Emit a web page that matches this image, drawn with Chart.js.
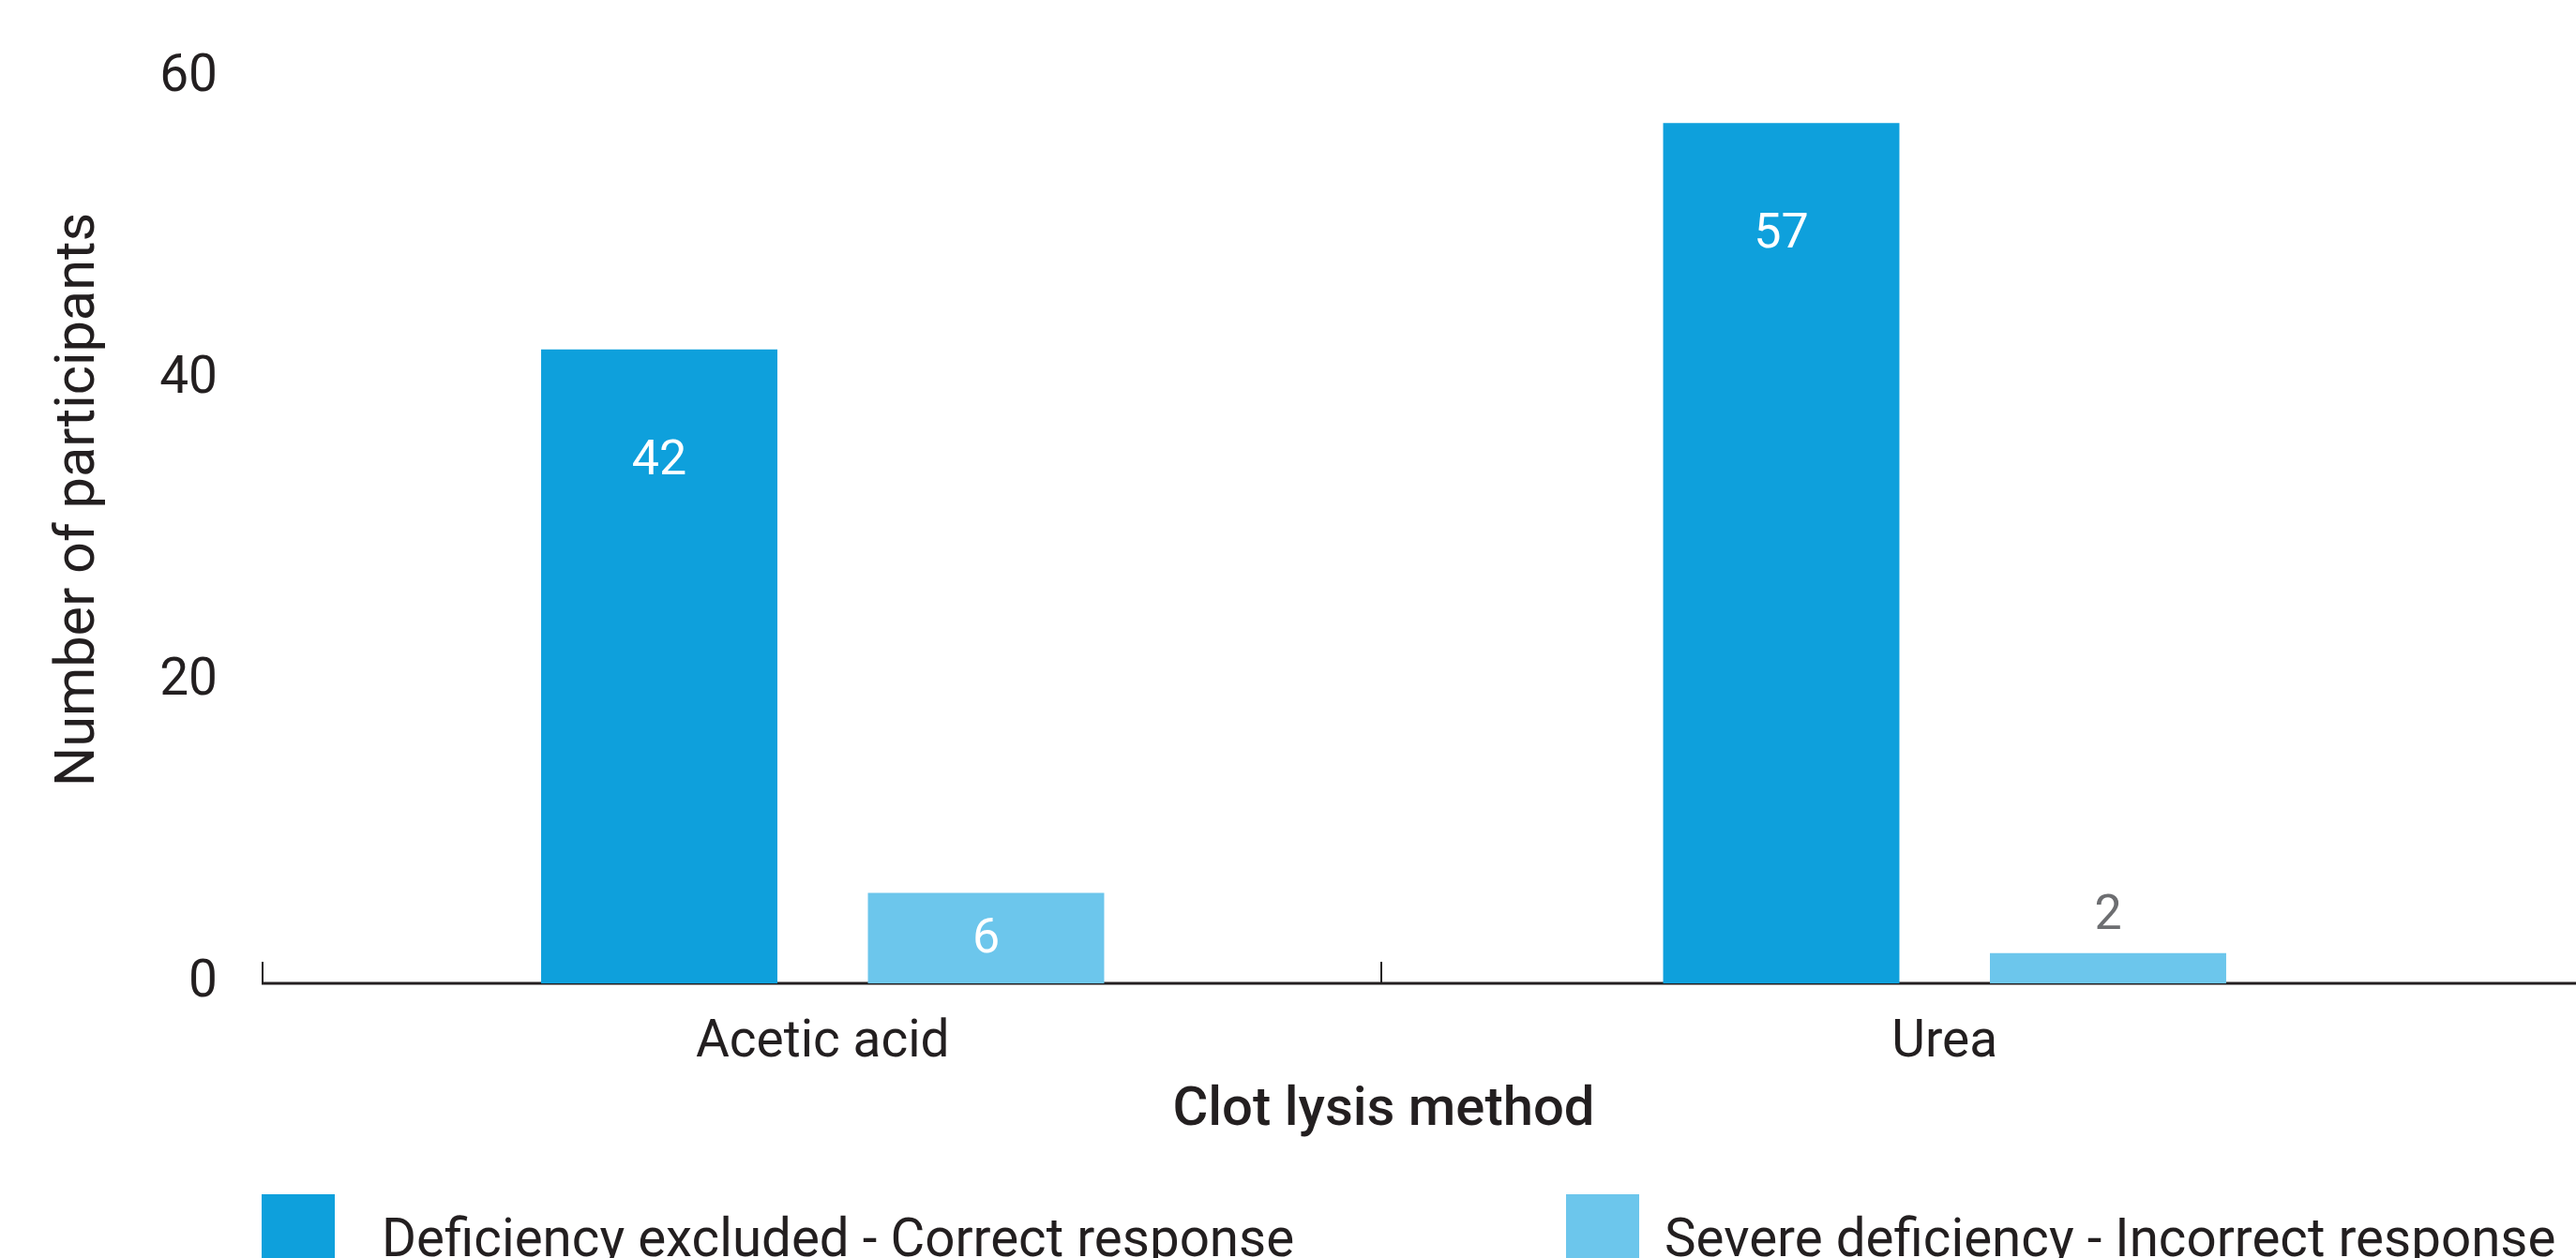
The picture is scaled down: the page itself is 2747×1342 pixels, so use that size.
<!DOCTYPE html>
<html>
<head>
<meta charset="utf-8">
<script src="https://cdn.jsdelivr.net/npm/chart.js@4/dist/chart.umd.min.js"></script>
<style>
  html, body { margin: 0; padding: 0; background: #ffffff; overflow: hidden; }
  #wrap { position: relative; width: 2747px; height: 1342px; }
  #chart { position: absolute; left: 0; top: 0; }
  .legend-item { position: absolute; top: 1274px; }
  .legend-box { position: absolute; top: 0; width: 78px; height: 78px; }
  .legend-text {
    position: absolute; top: 19px; white-space: nowrap;
    font-family: Roboto, sans-serif; font-size: 56.5px; line-height: 1;
    color: #231f20;
  }
</style>
</head>
<body>
<div id="wrap">
  <canvas id="chart" width="2747" height="1342"></canvas>
  <div id="legend"></div>
</div>
<script>
// Clot lysis method results
const categories = ['Acetic acid', 'Urea'];
const seriesNames = ['Deficiency excluded - Correct response', 'Severe deficiency - Incorrect response'];
const correctCounts = [42, 57];
const incorrectCounts = [6, 2];
const yTicks = [0, 20, 40, 60];
const yTitle = 'Number of participants';

const DARK = '#0ea0dc';
const LIGHT = '#6cc6ec';
const INK = '#231f20';
const FONT = 'Roboto, sans-serif';

// Baseline across the plot (running to the canvas edge) plus small upward ticks
// at the start of each category.
const axisLinePlugin = {
  id: 'axisLine',
  beforeDatasetsDraw(chart) {
    const {ctx, chartArea, scales: {x}} = chart;
    const y0 = chart.scales.y.getPixelForValue(0);
    ctx.save();
    ctx.strokeStyle = INK;
    ctx.lineWidth = 3;
    ctx.beginPath();
    ctx.moveTo(chartArea.left, y0);
    ctx.lineTo(chart.width, y0);
    ctx.stroke();
    const n = x.getLabels().length;
    const w = (x.right - x.left) / n;
    ctx.lineWidth = 2;
    for (let i = 0; i < n; i++) {
      const px = Math.round(x.getPixelForValue(i) - w / 2) + (i === 0 ? 1 : -3);
      ctx.beginPath();
      ctx.moveTo(px, y0);
      ctx.lineTo(px, y0 - 23);
      ctx.stroke();
    }
    ctx.restore();
  }
};

// Vertical axis title, set a little above the middle of the value axis
const yTitlePlugin = {
  id: 'yTitle',
  afterDraw(chart) {
    const {ctx, chartArea} = chart;
    ctx.save();
    ctx.translate(85, (chartArea.top + chartArea.bottom) / 2 - 33);
    ctx.rotate(-Math.PI / 2);
    ctx.font = '400 59.5px ' + FONT;
    ctx.fillStyle = INK;
    ctx.textAlign = 'center';
    ctx.textBaseline = 'middle';
    ctx.fillText(yTitle, 0, 0);
    ctx.restore();
  }
};

// Value labels: near the top inside tall bars, centred in short bars,
// above very short bars.
const valueLabelPlugin = {
  id: 'valueLabels',
  afterDatasetsDraw(chart) {
    const {ctx} = chart;
    ctx.save();
    ctx.font = '400 52px ' + FONT;
    ctx.textAlign = 'center';
    ctx.textBaseline = 'middle';
    chart.data.datasets.forEach((ds, di) => {
      chart.getDatasetMeta(di).data.forEach((bar, i) => {
        const h = bar.base - bar.y;
        let y, color;
        if (h > 300) { y = bar.y + 118; color = '#ffffff'; }
        else if (h > 80) { y = (bar.y + bar.base) / 2; color = '#ffffff'; }
        else { y = bar.y - 41; color = '#6d6e71'; }
        ctx.fillStyle = color;
        ctx.fillText(String(ds.data[i]), bar.x, y + 2);
      });
    });
    ctx.restore();
  }
};

const chart = new Chart(document.getElementById('chart'), {
  type: 'bar',
  data: {
    labels: categories,
    datasets: [
      { label: seriesNames[0], data: correctCounts, backgroundColor: DARK,
        categoryPercentage: 0.5825, barPercentage: 0.723 },
      { label: seriesNames[1], data: incorrectCounts, backgroundColor: LIGHT,
        categoryPercentage: 0.5825, barPercentage: 0.723 }
    ]
  },
  options: {
    responsive: false,
    devicePixelRatio: 1,
    animation: false,
    layout: { padding: { top: 83, right: 75, bottom: 112, left: 0 } },
    plugins: {
      legend: { display: false },
      tooltip: { enabled: false }
    },
    scales: {
      x: {
        grid: { display: false },
        border: { display: false },
        ticks: { color: INK, font: { family: FONT, size: 55 }, padding: 23 },
        title: {
          display: true, text: 'Clot lysis method', color: INK,
          font: { family: FONT, size: 58, weight: 500 },
          padding: { top: 0, bottom: 10 }
        },
        afterFit(scale) { scale.height = 181; }
      },
      y: {
        min: 0, max: 60,
        afterBuildTicks(scale) { scale.ticks = yTicks.map(v => ({ value: v })); },
        grid: { display: false },
        border: { display: false },
        ticks: { color: INK, font: { family: FONT, size: 55 }, padding: 39 },
        title: { display: false },
        afterFit(scale) { scale.width = 279; }
      }
    }
  },
  plugins: [axisLinePlugin, valueLabelPlugin, yTitlePlugin]
});

// Legend built from the chart's datasets
const legendPos = [{ box: 279, text: 407 }, { box: 1670, text: 1775 }];
const legendEl = document.getElementById('legend');
chart.data.datasets.forEach((ds, i) => {
  const item = document.createElement('div');
  item.className = 'legend-item';
  item.style.left = '0px';
  const box = document.createElement('div');
  box.className = 'legend-box';
  box.style.left = legendPos[i].box + 'px';
  box.style.background = ds.backgroundColor;
  const txt = document.createElement('div');
  txt.className = 'legend-text';
  txt.style.left = legendPos[i].text + 'px';
  txt.textContent = ds.label;
  item.appendChild(box);
  item.appendChild(txt);
  legendEl.appendChild(item);
});
</script>
</body>
</html>
